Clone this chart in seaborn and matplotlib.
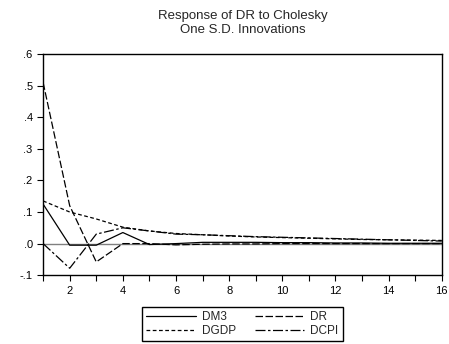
import matplotlib
matplotlib.use('Agg')
import matplotlib.pyplot as plt
import numpy as np
import pandas as pd
import seaborn as sns
from matplotlib.ticker import FuncFormatter, MultipleLocator

periods = list(range(1, 17))
dm3 = [0.125, -0.005, -0.005, 0.035, -0.003, 0.0, 0.004, 0.004, 0.004, 0.003, 0.003, 0.002, 0.002, 0.001, 0.001, 0.001]
dr = [0.51, 0.12, -0.058, 0.0, 0.0, -0.004, -0.002, -0.001, -0.001, 0.0, 0.0, 0.0, 0.0, 0.0, 0.0, 0.0]
dgdp = [0.135, 0.10, 0.078, 0.052, 0.04, 0.032, 0.028, 0.024, 0.021, 0.019, 0.017, 0.015, 0.013, 0.012, 0.011, 0.01]
dcpi = [0.0, -0.078, 0.03, 0.05, 0.04, 0.03, 0.028, 0.025, 0.022, 0.02, 0.018, 0.016, 0.014, 0.012, 0.01, 0.008]
names = ['DM3', 'DR', 'DGDP', 'DCPI']

df = pd.DataFrame({'period': periods * 4,
                   'value': dm3 + dr + dgdp + dcpi,
                   'series': sum([[n] * 16 for n in names], [])})

sns.set_style('white')
plt.rcParams['font.family'] = ['Liberation Sans', 'DejaVu Sans']

fig = plt.figure(figsize=(4.49, 3.44), dpi=100)
ax = fig.add_axes([0.096, 0.2, 0.888, 0.643])

ax.axhline(0, color='#808080', lw=1.0, zorder=1)
dash_map = {'DM3': '', 'DR': (6, 2, 6, 2), 'DGDP': (3, 2), 'DCPI': (8, 2, 2, 2)}
sns.lineplot(data=df, x='period', y='value', style='series', style_order=names,
             dashes=dash_map, color='black', lw=0.9, ax=ax, legend=True)

ax.set_xlim(1, 16)
ax.set_ylim(-0.1, 0.6)
ax.xaxis.set_major_locator(MultipleLocator(2))
ax.xaxis.set_minor_locator(MultipleLocator(1))
ax.yaxis.set_major_locator(MultipleLocator(0.1))
ax.yaxis.set_major_formatter(FuncFormatter(lambda v, p: ('-' if v < -1e-9 else '') + ('%.1f' % abs(v))[1:]))
ax.tick_params(axis='both', which='both', direction='out', labelsize=8, length=4, width=0.8,
               bottom=True, left=True, colors='black')
ax.tick_params(axis='x', which='minor', length=4)
ax.set_xlabel('')
ax.set_ylabel('')
for s in ax.spines.values():
    s.set_color('black')
    s.set_linewidth(1.0)

ax.set_title('Response of DR to Cholesky\nOne S.D. Innovations', fontsize=9.5, pad=15, linespacing=1.25)

handles, labels = ax.get_legend_handles_labels()
lookup = dict(zip(labels, handles))
order = ['DM3', 'DGDP', 'DR', 'DCPI']
ax.legend([lookup[k] for k in order], order, loc='upper center', bbox_to_anchor=(0.5, -0.115), ncol=2,
          fontsize=8.5, frameon=True, fancybox=False, edgecolor='black', framealpha=1,
          handlelength=4.2, columnspacing=1.6, labelspacing=0.2, borderpad=0.35, handletextpad=0.5)

fig.savefig('out.png', dpi=100)
